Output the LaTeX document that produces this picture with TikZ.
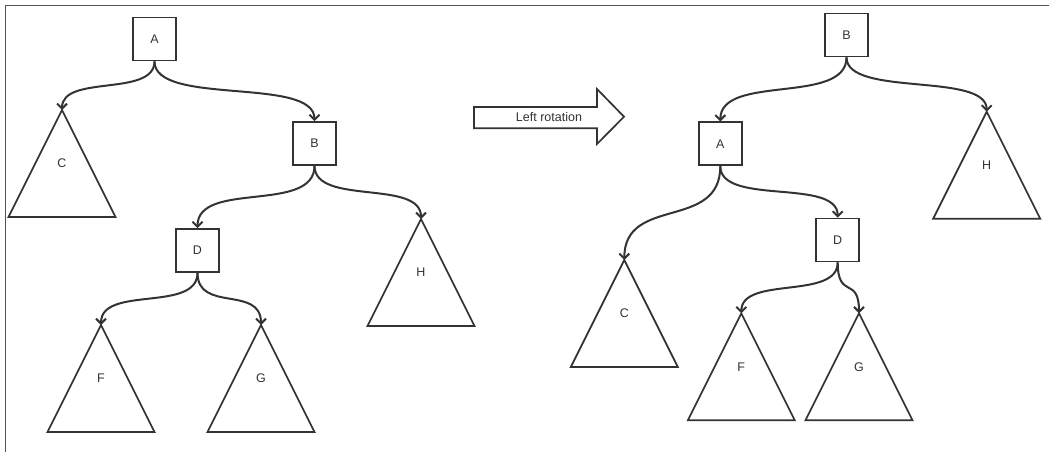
\documentclass[tikz,border=0pt]{standalone}
\usepackage{fontspec}
\setmainfont{Liberation Sans}
\usetikzlibrary{arrows.meta}

\definecolor{ink}{HTML}{333333}

\tikzset{
    box/.style={draw=ink, line width=1.7pt, minimum size=43pt, inner sep=0pt,
        text=ink, font=\fontsize{12.5}{14}\selectfont},
    lbl/.style={text=ink, inner sep=0pt, font=\fontsize{12.5}{14}\selectfont},
    tri/.style={draw=ink, line width=1.7pt, line join=miter},
    edge/.style={draw=ink, line width=2pt, -{Straight Barb[length=5pt,width=10pt]}}
}

\begin{document}
\begin{tikzpicture}[x=1pt, y=-1pt]
    % 1. Khung ngoài
    \useasboundingbox (0,0) rectangle (1049,452);
    \draw[ink!85, line width=1.6pt] (5.5,452) -- (5.5,5.5) -- (1049,5.5);

    % 2. Các cây con (tam giác)
    \foreach \n/\x/\y/\t in {lC/62/110/C, lF/101/325/F, lG/261/325/G, lH/421/219/H,
                             rC/624.3/260/C, rF/741.3/313.3/F, rG/859/313.3/G, rH/986.7/111.7/H}
    {
        \coordinate (\n) at (\x,\y);
        \draw[tri] (\n) -- ++(-53.5,107) -- ++(107,0) -- cycle;
        \path (\n) ++(0,53.5) node[lbl] (\n-t) {\t};
    }

    % 3. Cây trước khi quay
    \node[box] (lA) at (154.5,39) {A};
    \node[box] (lB) at (314.5,143.5) {B};
    \node[box] (lD) at (197.5,250.5) {D};

    \draw[edge] (lA.south) .. controls +(0,36) and +(0,-36) .. (lC);
    \draw[edge] (lA.south) .. controls +(0,45) and +(0,-45) .. (lB.north);
    \draw[edge] (lB.south) .. controls +(0,48) and +(0,-48) .. (lD.north);
    \draw[edge] (lB.south) .. controls +(0,40) and +(0,-40) .. (lH);
    \draw[edge] (lD.south) .. controls +(0,40) and +(0,-40) .. (lF);
    \draw[edge] (lD.south) .. controls +(0,40) and +(0,-40) .. (lG);

    % 4. Mũi tên "Left rotation"
    \draw[tri] (474,107) -- (597,107) -- (597,89) -- (624,116.7)
        -- (597,144) -- (597,128.3) -- (474,128.3) -- cycle;
    \node[lbl] (rot) at (549,116.7) {Left rotation};

    % 5. Cây sau khi quay
    \node[box] (rB) at (846.5,35) {B};
    \node[box] (rA) at (720.3,143.8) {A};
    \node[box] (rD) at (837.7,240) {D};

    \draw[edge] (rB.south) .. controls +(0,48) and +(0,-48) .. (rA.north);
    \draw[edge] (rB.south) .. controls +(0,40) and +(0,-40) .. (rH);
    \draw[edge] (rA.south) .. controls +(0,65) and +(0,-65) .. (rC);
    \draw[edge] (rA.south) .. controls +(0,40) and +(0,-40) .. (rD.north);
    \draw[edge] (rD.south) .. controls +(0,38) and +(0,-38) .. (rF);
    \draw[edge] (rD.south) .. controls +(0,38) and +(0,-38) .. (rG);

\end{tikzpicture}
\end{document}
